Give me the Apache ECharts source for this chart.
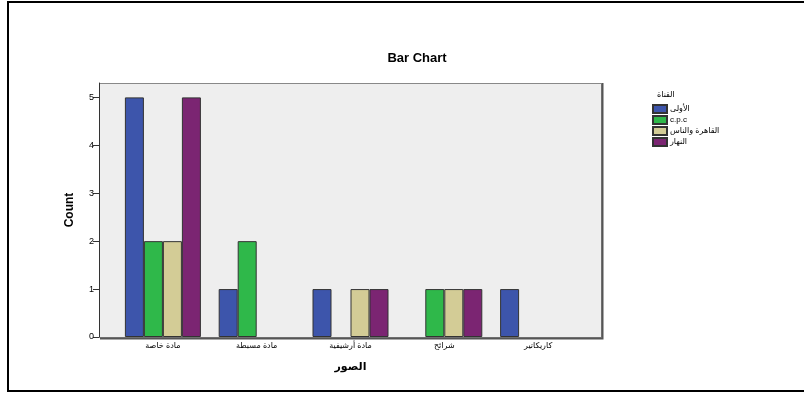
<!DOCTYPE html>
<html>
<head>
<meta charset="utf-8">
<script src="https://cdn.jsdelivr.net/npm/echarts@6/dist/echarts.min.js"></script>
<style>
  html, body { margin: 0; padding: 0; background: #fff; }
  #chart { width: 804px; height: 394px; }
</style>
</head>
<body>
<div id="chart"></div>
<script>
// categories (x axis) and one array per channel
var categories = ['مادة خاصة', 'مادة مسبطة', 'مادة أرشيفية', 'شرائح', 'كاريكاتير'];
var seriesNames = ['الأولى', 'c.p.c', 'القاهرة والناس', 'النهار'];
var oulaData = [5, 1, 1, 0, 1];
var cpcData = [2, 2, 0, 1, 0];
var qahiraData = [2, 0, 1, 1, 0];
var naharData = [5, 0, 1, 1, 0];
var yTicks = [0, 1, 2, 3, 4, 5];

var colors = ['#3d55ab', '#2fb84a', '#d3cc96', '#7b2572'];
var allData = [oulaData, cpcData, qahiraData, naharData];

var chart = echarts.init(document.getElementById('chart'));

var series = allData.map(function (d, i) {
  return {
    name: seriesNames[i],
    type: 'bar',
    barWidth: 19,
    barGap: '0%',
    itemStyle: { color: colors[i], borderColor: '#333', borderWidth: 1 },
    // zero counts draw nothing but keep their slot
    data: d.map(function (v) { return v === 0 ? '-' : v; })
  };
});

var option = {
  animation: false,
  backgroundColor: '#fff',
  textStyle: { fontFamily: 'Liberation Sans, DejaVu Sans, sans-serif' },
  title: [
    {
      text: 'Bar Chart',
      left: 412, top: 47, textAlign: 'center',
      textStyle: { fontSize: 13, fontWeight: 'bold', color: '#000' }
    },
    {
      text: 'القناة',
      left: 652, top: 86,
      textStyle: { fontSize: 8, fontWeight: 'normal', color: '#000' }
    }
  ],
  legend: {
    orient: 'vertical',
    left: 647, top: 99,
    itemWidth: 14, itemHeight: 8, itemGap: 1,
    icon: 'rect',
    textStyle: { fontSize: 8, lineHeight: 9, color: '#000', padding: [0, 0, 0, -2] },
    data: seriesNames
  },
  // the category band is narrower than the grey box, so the grid is inset
  grid: {
    left: 116, top: 83, width: 469, height: 254
  },
  xAxis: {
    type: 'category',
    data: categories,
    name: 'الصور',
    nameLocation: 'middle',
    nameGap: 24,
    nameTextStyle: { fontSize: 11, fontWeight: 'bold', color: '#000' },
    axisLine: { show: false },
    axisTick: { alignWithLabel: true, length: 5, lineStyle: { color: '#333' } },
    axisLabel: { fontSize: 8, color: '#000', margin: 5 }
  },
  yAxis: {
    type: 'value',
    min: 0, max: 5.3, interval: 1,
    offset: 17,
    name: 'Count',
    nameLocation: 'middle',
    nameGap: 23,
    nameTextStyle: { fontSize: 12, fontWeight: 'bold', color: '#000' },
    splitLine: { show: false },
    axisLine: { show: true, lineStyle: { color: '#333' } },
    axisTick: { show: true, length: 6, customValues: yTicks, lineStyle: { color: '#333' } },
    axisLabel: { fontSize: 9, color: '#000', margin: 5, customValues: yTicks }
  },
  graphic: [
    {
      type: 'rect',
      z: -10,
      shape: { x: 99.5, y: 83.5, width: 502, height: 254 },
      style: { fill: '#eeeeee', stroke: '#888', lineWidth: 1 }
    },
    {
      type: 'polyline',
      z: -9,
      shape: { points: [[602.5, 83], [602.5, 338.5], [100, 338.5]] },
      style: { stroke: '#555', lineWidth: 2, fill: null }
    },
    {
      type: 'polyline',
      shape: { points: [[806, 2], [8, 2], [8, 391], [806, 391]] },
      style: { stroke: '#000', lineWidth: 2, fill: null }
    }
  ],
  series: series
};

chart.setOption(option);
</script>
</body>
</html>
